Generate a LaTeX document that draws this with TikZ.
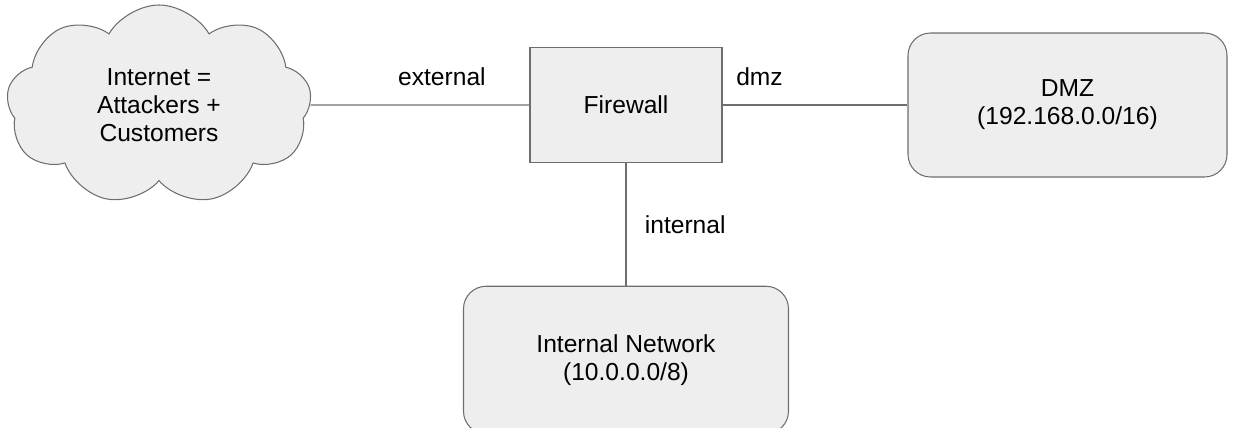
\documentclass[tikz,border=0pt]{standalone}
\usepackage{fontspec}
\setmainfont{Liberation Sans}
\usepackage{tikz}
\usetikzlibrary{shapes,positioning}

\definecolor{boxfill}{HTML}{EEEEEE}
\definecolor{boxline}{HTML}{6E6E6E}

\tikzset{
    netbox/.style={draw=boxline, fill=boxfill, line width=0.6pt, rounded corners=0.45cm, align=center},
    fwbox/.style={draw=boxline, fill=boxfill, line width=0.6pt, align=center, minimum width=3.84cm, minimum height=2.3cm},
    link/.style={draw=boxline, line width=0.6pt}
}

\begin{document}
\begin{tikzpicture}[font=\fontsize{14}{16}\selectfont]
    \useasboundingbox (0,0) rectangle (24.66,-8.54);
    \clip (0,0) rectangle (24.66,-8.54);

    \node[cloud, cloud puffs=9, cloud puff arc=120, cloud ignores aspect, draw=boxline, fill=boxfill, line width=0.6pt,
          minimum width=6.1cm, minimum height=4.0cm, align=center] (inet) at (3.18,-2.1) {Internet =\\Attackers +\\Customers};
    \node[fwbox] (fw) at (12.52,-2.1) {Firewall};
    \node[netbox, minimum width=6.38cm, minimum height=2.88cm] (dmz) at (21.35,-2.1) {DMZ\\(192.168.0.0/16)};
    \node[netbox, minimum width=6.5cm, minimum height=2.95cm] (lan) at (12.52,-7.2) {Internal Network\\(10.0.0.0/8)};

    \draw[link] (inet.east) -- (fw.west) node[pos=0.6, above=0.25cm] (extlbl) {external};
    \draw[link] (fw.east) -- (dmz.west) node[pos=0.2, above=0.25cm] (dmzlbl) {dmz};
    \draw[link] (fw.south) -- (lan.north) node[midway, right=0.25cm] (intlbl) {internal};
\end{tikzpicture}
\end{document}
